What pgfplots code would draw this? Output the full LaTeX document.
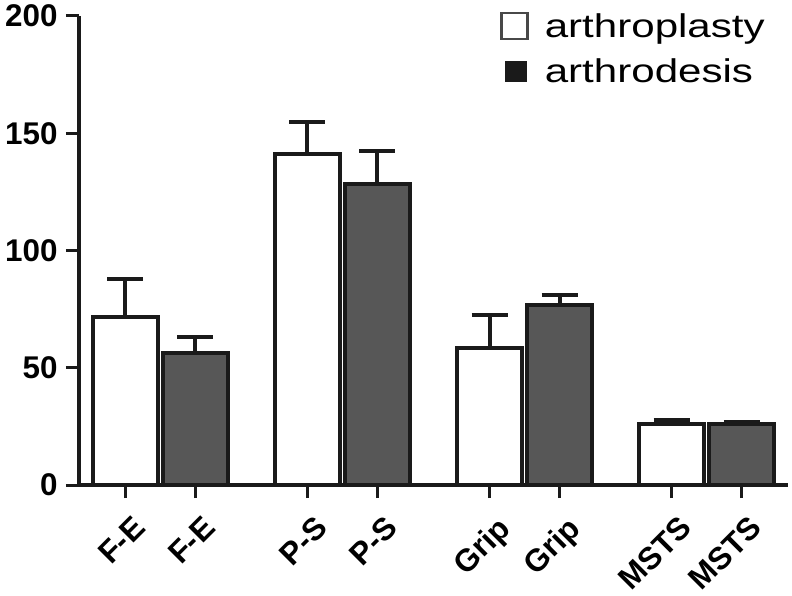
\documentclass[border=0pt]{standalone}
\usepackage{fontspec}
\setmainfont{Liberation Sans}
\usepackage{graphicx}
\usepackage{pgfplots}
\pgfplotsset{compat=1.18}
\definecolor{edge}{HTML}{1A1A1A}
\definecolor{darkfill}{HTML}{575757}
\begin{document}
\begin{tikzpicture}
\begin{axis}[
  width=709bp, height=469bp, scale only axis,
  xmin=-0.66, xmax=9.46, ymin=0, ymax=200,
  axis lines*=left,
  axis line style={line width=4bp, edge},
  xtick={0,1,2.6,3.6,5.2,6.2,7.8,8.8},
  xticklabels={F-E,F-E,P-S,P-S,Grip,Grip,MSTS,MSTS},
  ytick={0,50,100,150,200},
  tick align=outside,
  major tick length=13bp,
  tick style={line width=3bp, edge},
  /pgf/number format/assume math mode=true,
  ticklabel style={font=\bfseries\fontsize{31.5}{33}\selectfont},
  yticklabel style={xshift=-5bp},
  xticklabel style={rotate=45, anchor=north east, inner sep=1bp, xshift=-6bp, yshift=-15bp},
  legend style={at={(0.594,1.010)}, anchor=north west, draw=none, fill=none,
    font=\fontsize{33}{36}\selectfont, row sep=16bp, inner sep=0pt,
    /tikz/every odd column/.append style={column sep=14bp}},
  legend cell align=left,
  clip=false,
]
\coordinate (O) at (rel axis cs:0,0);
\addplot[ybar, bar width=0.93, bar shift=0pt, fill=white, draw=edge, line width=4bp, forget plot,
  error bars/.cd, y dir=plus, y explicit,
  error bar style={line width=4bp, edge},
  error mark options={rotate=90, mark size=18bp, line width=4bp, edge}]
  coordinates {(0,71.8) +- (0,15.9) (2.6,141.2) +- (0,13.4) (5.2,58.6) +- (0,13.8) (7.8,25.8) +- (0,1.8)};
\addplot[ybar, bar width=0.93, bar shift=0pt, fill=darkfill, draw=edge, line width=4bp, forget plot,
  error bars/.cd, y dir=plus, y explicit,
  error bar style={line width=4bp, edge},
  error mark options={rotate=90, mark size=18bp, line width=4bp, edge}]
  coordinates {(1,56.5) +- (0,6.5) (3.6,128.4) +- (0,14.1) (6.2,76.8) +- (0,4.1) (8.8,26.1) +- (0,0.8)};
\addlegendimage{legend image code/.code={\draw[line width=2.5bp, draw=edge!80, fill=white] (0bp,-13bp) rectangle (26bp,13bp);}}
\addlegendentry{\scalebox{1.28}[1]{arthroplasty}}
\addlegendimage{legend image code/.code={\fill[edge] (4bp,-10bp) rectangle (25bp,10bp);}}
\addlegendentry{\scalebox{1.28}[1]{arthrodesis}}
\end{axis}
\pgfresetboundingbox
\path ([shift={(-79bp,-111bp)}]O) rectangle ++(792bp,596bp);
\end{tikzpicture}
\end{document}
